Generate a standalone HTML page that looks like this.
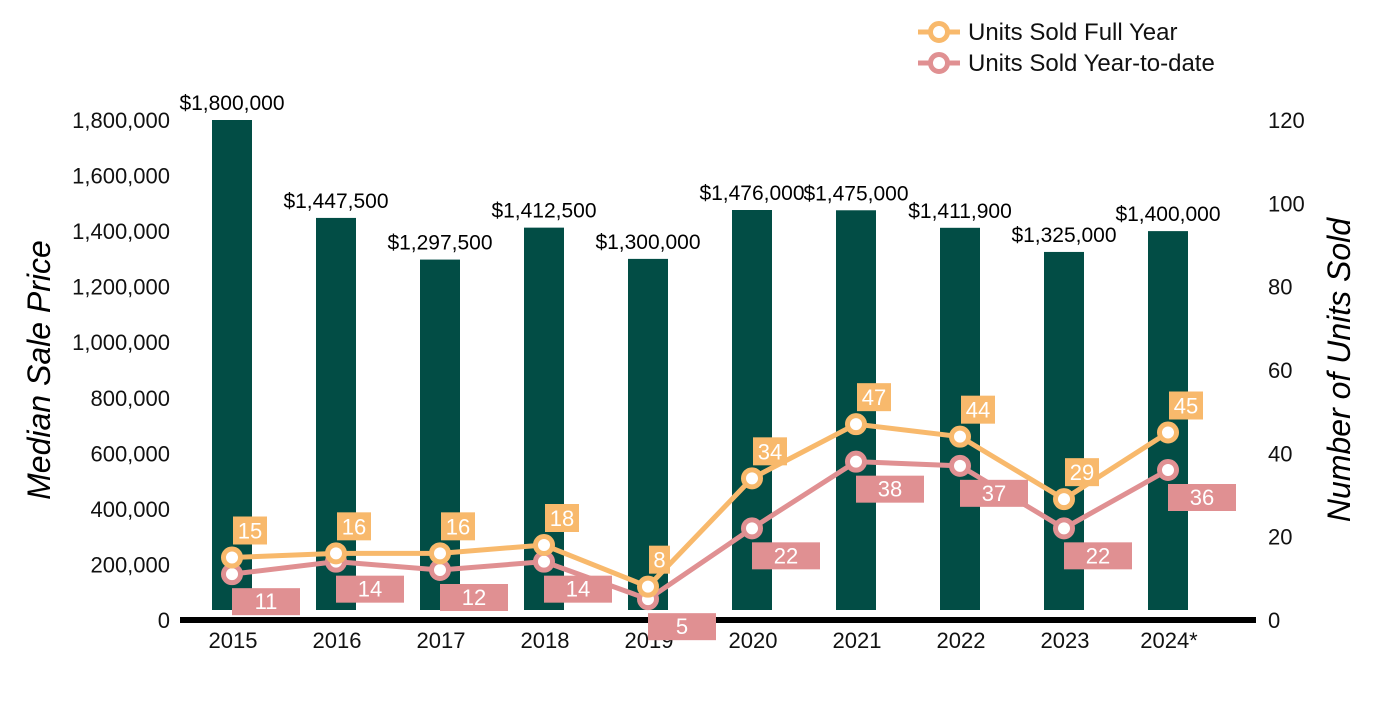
<!DOCTYPE html>
<html><head><meta charset="utf-8"><style>
body{margin:0;background:#fff;}
svg text{font-family:"Liberation Sans",Arial,sans-serif;}
</style></head><body>
<svg width="1400" height="700" viewBox="0 0 1400 700" xmlns="http://www.w3.org/2000/svg">
<g id="g"></g>
</svg>
<script>
const years=["2015","2016","2017","2018","2019","2020","2021","2022","2023","2024*"];
const prices=[1800000,1447500,1297500,1412500,1300000,1476000,1475000,1411900,1325000,1400000];
const priceLabels=["$1,800,000","$1,447,500","$1,297,500","$1,412,500","$1,300,000","$1,476,000","$1,475,000","$1,411,900","$1,325,000","$1,400,000"];
const fullYear=[15,16,16,18,8,34,47,44,29,45];
const ytd=[11,14,12,14,5,22,38,37,22,36];
const leftTicks=[0,200000,400000,600000,800000,1000000,1200000,1400000,1600000,1800000];
const rightTicks=[0,20,40,60,80,100,120];

const NS="http://www.w3.org/2000/svg";
const g=document.getElementById('g');
function el(t,a,txt){const e=document.createElementNS(NS,t);for(const k in a)e.setAttribute(k,a[k]);if(txt!==undefined)e.textContent=txt;g.appendChild(e);return e;}
const x=i=>232+i*104;
const yL=v=>620-v/1800000*500;
const yR=v=>620-v/120*500;

leftTicks.forEach(v=>{const t=el('text',{x:170,y:yL(v)+8,'text-anchor':'end','font-size':22,fill:'#111'},v.toLocaleString('en-US'));

});
rightTicks.forEach(v=>{const t=el('text',{x:1268,y:yR(v)+8,'font-size':22,fill:'#111'},String(v));

});

prices.forEach((p,i)=>{
const b=el('rect',{x:x(i)-20,y:yL(p),width:40,height:610-yL(p),fill:'#024d45'});


const t=el('text',{x:x(i),y:yL(p)-10,'text-anchor':'middle','font-size':21,fill:'#000'},priceLabels[i]);


const yt=el('text',{x:x(i)+1,y:648,'text-anchor':'middle','font-size':22,fill:'#111'},years[i]);


});
const base=el('rect',{x:180,y:617,width:1076,height:6,fill:'#000'});



function series(vals,color,name){
const pl=el('polyline',{points:vals.map((v,i)=>x(i)+','+yR(v)).join(' '),fill:'none',stroke:color,'stroke-width':5});


vals.forEach((v,i)=>{const c=el('circle',{cx:x(i),cy:yR(v),r:8.5,fill:'#fff',stroke:color,'stroke-width':5});

});
}
series(ytd,'#e09092','ytd');
series(fullYear,'#f8b96c','full-year');

ytd.forEach((v,i)=>{const y=yR(v);
const r=el('rect',{x:x(i),y:y+14,width:68,height:27,fill:'#e09092'});


const t=el('text',{x:x(i)+34,y:y+35,'text-anchor':'middle','font-size':22,fill:'#fff'},String(v));

});
fullYear.forEach((v,i)=>{const y=yR(v);const w=String(v).length>1?34:21;
const r=el('rect',{x:x(i)+1,y:y-41,width:w,height:28,fill:'#f8b96c'});


const t=el('text',{x:x(i)+1+w/2,y:y-19,'text-anchor':'middle','font-size':22,fill:'#fff'},String(v));

});

const lt=el('text',{x:50,y:370,'font-size':32,'font-style':'italic','text-anchor':'middle',fill:'#000',transform:'rotate(-90 50 370)'},'Median Sale Price');


const rt=el('text',{x:1350,y:370,'font-size':32,'font-style':'italic','text-anchor':'middle',fill:'#000',transform:'rotate(-90 1350 370)'},'Number of Units Sold');



[['Units Sold Full Year','#f8b96c',32],['Units Sold Year-to-date','#e09092',63]].forEach(([n,c,y])=>{
const l=el('line',{x1:918,y1:y,x2:960,y2:y,stroke:c,'stroke-width':5});


const ci=el('circle',{cx:939,cy:y,r:8.5,fill:'#fff',stroke:c,'stroke-width':5});


const t=el('text',{x:968,y:y+8,'font-size':24,fill:'#111'},n);

});
</script>
</body></html>
